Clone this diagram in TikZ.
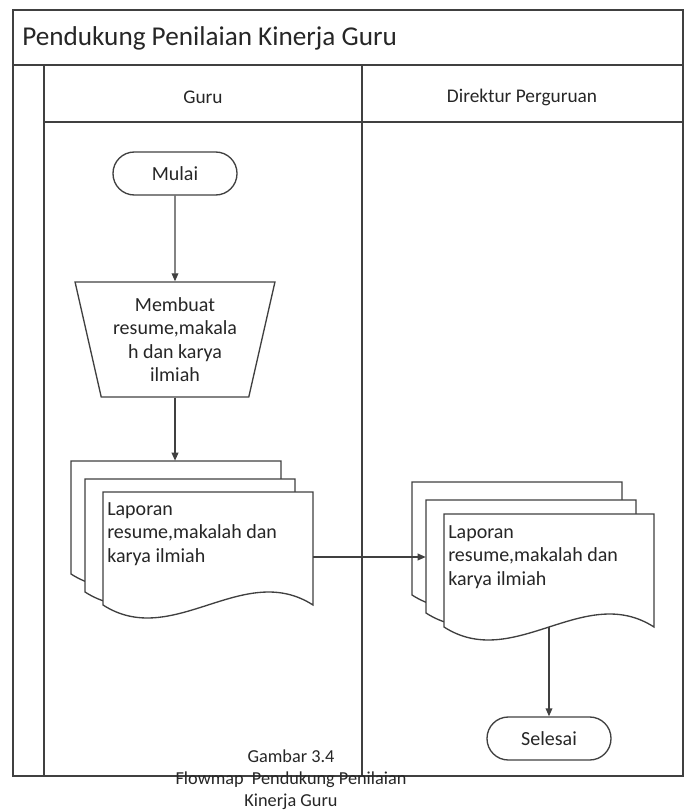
\documentclass[tikz,border=0pt]{standalone}
\usepackage{fontspec}
\setmainfont{Carlito}
\usepackage{tikz}
\usetikzlibrary{arrows.meta,calc,shapes.geometric}
\definecolor{linec}{gray}{0.25}
\definecolor{textc}{gray}{0.15}
\newcommand{\bodyfont}{\fontsize{15pt}{17.6pt}\selectfont}
\newcommand{\headfont}{\fontsize{14.5pt}{17pt}\selectfont}
\newcommand{\titlefont}{\fontsize{20.4pt}{24pt}\selectfont}
\newcommand{\capfont}{\fontsize{13.7pt}{16.5pt}\selectfont}
\tikzset{
  lane/.style={draw=linec, line width=1.2pt},
  label text/.style={text=textc, inner sep=0pt},
  startstop/.style={draw=linec, line width=1pt, text=textc,
    rounded corners=16pt, minimum width=93pt, minimum height=32.25pt,
    inner sep=0pt, font=\bodyfont},
  manualop/.style={trapezium, shape border rotate=180,
    trapezium left angle=75.4, trapezium right angle=75.4,
    trapezium stretches=true, draw=linec, line width=1pt, text=textc,
    minimum width=150pt, minimum height=86.25pt, inner sep=0pt,
    align=center, font=\bodyfont},
  flow/.style={draw=linec, line width=1pt,
    -{Triangle[length=6pt,width=5pt]}},
  docpage/.pic={
    \path[draw=linec, fill=white, line width=1pt]
      (0,0) -- (210,0) -- (210,113)
      .. controls (140,68) and (70,158) .. (0,113) -- cycle;
    \node[inner sep=0pt, minimum width=157.5pt, minimum height=84.75pt]
      (-b) at (105,56.5) {};
  }
}

\begin{document}
\begin{tikzpicture}[x=0.75pt, y=-0.75pt]
  \useasboundingbox (0,0) rectangle (692,812);

  % swimlane frame
  \draw[lane] (13,10) rectangle (683,776);
  \draw[lane] (13,65) -- (683,65);
  \draw[lane] (44,65) -- (44,776);
  \draw[lane] (44,122) -- (683,122);
  \draw[lane] (362,65) -- (362,776);

  \node[label text, anchor=west, font=\titlefont] (judul) at (22,38)
    {Pendukung Penilaian Kinerja Guru};
  \node[label text, font=\headfont] (guru) at (203,97) {Guru};
  \node[label text, font=\headfont] (direktur) at (522,97) {Direktur Perguruan};

  % guru
  \node[startstop] (mulai) at (175,173.5) {Mulai};
  \node[manualop] (membuat) at (175,339.5)
    {Membuat\\resume,makala\\h dan karya\\ilmiah};

  \pic (lp1) at (71,461) {docpage};
  \pic (lp2) at (85,479) {docpage};
  \pic (lp3) at (103,492) {docpage};
  \node[label text, anchor=north west, align=left, font=\bodyfont]
    (lapguru) at (107,502) {Laporan\\resume,makalah dan\\karya ilmiah};

  % direktur perguruan
  \pic (rp1) at (412,482) {docpage};
  \pic (rp2) at (426,500) {docpage};
  \pic (rp3) at (444,514) {docpage};
  \node[label text, anchor=north west, align=left, font=\bodyfont]
    (lapdir) at (448,525) {Laporan\\resume,makalah dan\\karya ilmiah};
  \node[startstop] (selesai) at (549,738.5) {Selesai};

  \coordinate (kirim) at (0,557);
  \draw[flow] (mulai) -- (membuat);
  \draw[flow] (membuat.south) -- (membuat.south |- lp1-b.north);
  \draw[flow] (lp3-b.east |- kirim) -- (rp2-b.west |- kirim);
  \draw[flow] (rp3-b.south) -- (selesai);

  \node[label text, align=center, font=\capfont] (caption) at (291,780)
    {Gambar 3.4\\Flowmap\ \ Pendukung Penilaian\\Kinerja Guru};
\end{tikzpicture}
\end{document}
